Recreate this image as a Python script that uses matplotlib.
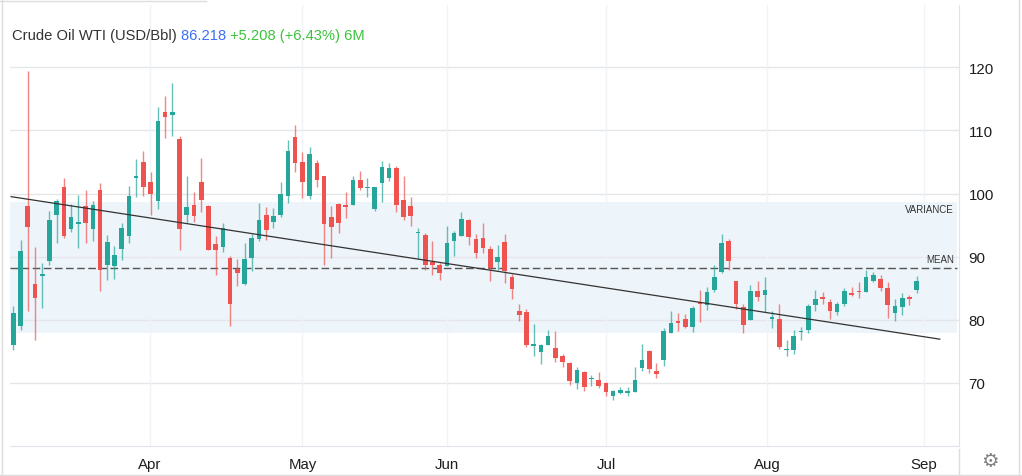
import matplotlib
matplotlib.use('Agg')
import matplotlib.pyplot as plt
from matplotlib.lines import Line2D
import matplotlib.transforms as mtransforms

# Daily candles (oldest first)
OPENS = [76.0, 79.05, 98.0, 85.7, 86.9, 89.25, 96.6, 101.0, 94.3, 95.2, 98.0, 94.4, 100.5, 88.7, 88.5, 91.2,
         93.2, 102.5, 105.0, 101.8, 98.8, 112.9, 112.5, 108.6, 96.6, 98.2, 101.9, 98.0, 92.0, 91.5, 89.8, 88.1,
         85.7, 89.8, 92.8, 96.6, 95.5, 96.6, 99.6, 109.0, 105.0, 99.6, 104.9, 102.7, 96.2, 98.3, 98.2, 98.2,
         102.1, 100.9, 97.5, 101.7, 102.4, 104.1, 99.0, 97.95, 93.74, 93.4, 89.1, 88.6, 88.45, 92.4, 93.3, 95.8,
         92.8, 92.9, 91.2, 89.2, 92.3, 86.7, 81.4, 81.2, 75.8, 74.8, 76.0, 75.5, 74.3, 73.1, 69.9, 71.65,
         70.55, 70.4, 69.95, 67.95, 68.3, 68.4, 68.5, 72.35, 75.0, 71.9, 73.6, 77.8, 79.7, 80.1, 78.9, 82.85,
         82.3, 84.7, 87.6, 92.4, 86.2, 82.05, 79.95, 84.6, 83.9, 80.1, 80.1, 75.1, 75.1, 78.05, 78.4, 82.3,
         83.55, 82.75, 81.2, 82.5, 84.2, 84.5, 84.35, 86.2, 86.45, 85.0, 81.06, 82.07, 83.65, 84.7]
HIGHS = [82.2, 92.6, 119.4, 91.5, 89.0, 97.2, 99.2, 102.5, 98.4, 99.8, 100.5, 98.8, 101.7, 93.4, 91.6, 95.4,
         101.2, 105.4, 106.8, 103.35, 113.8, 115.4, 117.6, 109.1, 102.7, 100.3, 105.6, 98.1, 93.3, 95.4, 90.1, 89.6,
         92.2, 93.6, 98.5, 97.8, 97.7, 101.8, 108.5, 110.9, 106.6, 107.4, 105.3, 102.7, 98.0, 98.5, 100.3, 102.7,
         103.6, 102.4, 101.0, 105.2, 104.9, 104.4, 102.7, 99.4, 94.6, 93.7, 92.4, 89.0, 94.8, 94.0, 97.0, 96.0,
         93.6, 95.4, 91.6, 91.8, 93.6, 87.2, 82.5, 81.7, 79.3, 76.15, 78.4, 78.2, 74.6, 73.35, 72.55, 71.9,
         71.2, 71.65, 70.1, 68.85, 69.3, 69.3, 72.45, 76.15, 75.25, 73.1, 78.7, 81.3, 81.05, 80.9, 82.2, 84.7,
         85.1, 88.6, 93.5, 92.8, 86.2, 82.4, 85.5, 86.1, 86.8, 81.3, 82.4, 76.7, 78.4, 78.8, 82.5, 84.7,
         84.3, 83.3, 82.75, 85.0, 85.1, 85.9, 87.8, 87.5, 87.0, 85.9, 83.3, 84.2, 83.9, 86.9]
LOWS = [75.1, 78.4, 81.3, 76.8, 81.8, 88.6, 92.1, 92.9, 93.95, 91.4, 92.2, 92.5, 84.5, 86.3, 86.45, 89.5,
        92.1, 99.5, 99.6, 96.6, 97.5, 108.8, 109.2, 91.1, 95.3, 95.5, 97.1, 91.0, 87.0, 90.7, 79.05, 85.4,
        85.5, 87.7, 92.4, 92.7, 94.5, 96.3, 98.5, 103.35, 99.3, 99.1, 101.1, 88.7, 89.8, 93.8, 96.1, 98.1,
        100.5, 99.45, 97.3, 98.7, 102.0, 97.0, 95.8, 94.8, 89.6, 87.8, 87.1, 86.3, 88.45, 90.15, 93.2, 91.9,
        89.7, 90.5, 86.1, 87.8, 85.8, 83.3, 79.8, 75.6, 74.2, 73.0, 75.9, 73.35, 72.55, 69.7, 69.0, 68.6,
        69.4, 69.1, 67.95, 67.2, 68.2, 67.96, 68.45, 71.9, 71.55, 70.75, 72.7, 77.8, 78.25, 78.6, 78.0, 79.6,
        81.6, 84.4, 87.4, 87.8, 81.7, 77.9, 79.95, 83.0, 81.2, 78.6, 75.36, 74.3, 74.6, 76.7, 77.9, 81.3,
        82.5, 80.1, 80.8, 82.2, 83.8, 83.5, 84.35, 86.0, 84.6, 80.2, 79.7, 80.7, 82.3, 84.23]
CLOSES = [81.0, 90.9, 94.7, 83.4, 87.3, 95.75, 98.8, 93.3, 96.2, 95.5, 95.4, 98.2, 87.9, 92.3, 90.25, 94.5,
          99.55, 102.8, 101.1, 99.9, 111.5, 112.2, 112.9, 94.3, 97.8, 96.5, 99.0, 91.1, 91.1, 94.6, 82.5, 87.4,
          89.6, 92.9, 95.75, 94.2, 96.4, 99.9, 106.8, 104.9, 101.8, 106.3, 102.1, 95.1, 94.7, 95.3, 97.9, 102.2,
          100.9, 101.1, 101.0, 104.25, 104.0, 98.2, 96.3, 96.5, 93.85, 88.6, 88.7, 87.35, 92.15, 93.7, 95.95, 93.05,
          90.5, 91.3, 88.2, 89.9, 87.7, 84.9, 80.8, 76.0, 76.15, 76.0, 77.4, 73.9, 73.2, 70.3, 72.0, 69.3,
          70.75, 69.4, 68.5, 68.75, 68.9, 68.6, 70.45, 73.6, 72.1, 71.3, 78.15, 79.5, 79.5, 78.8, 81.85, 82.5,
          84.3, 86.8, 92.15, 89.25, 82.5, 79.2, 84.5, 83.55, 84.7, 80.4, 75.7, 75.36, 77.4, 78.2, 82.1, 83.2,
          83.3, 81.3, 82.5, 84.5, 83.97, 84.35, 86.8, 87.1, 85.0, 82.3, 82.2, 83.44, 83.3, 86.2]

# Month ticks, as positions along the candle index
MONTH_LABELS = ['Apr', 'May', 'Jun', 'Jul', 'Aug', 'Sep']
MONTH_POS = [18.9, 40.0, 60.0, 82.0, 104.3, 126.0]
PRICE_TICKS = [70, 80, 90, 100, 110, 120]

# Overlay statistics shown on the chart
MEAN_PRICE = 88.2
VARIANCE_BAND = (77.9, 98.7)
TREND_X = [-0.3, 128.2]
TREND_Y = [99.5, 76.9]

UP_COLOR = '#26a69a'
DOWN_COLOR = '#ef5350'
FONT = 'Liberation Sans'


def draw_candles(ax):
    """Draw wicks and bodies for every candle."""
    for i, (o, h, l, c) in enumerate(zip(OPENS, HIGHS, LOWS, CLOSES)):
        color = UP_COLOR if c >= o else DOWN_COLOR
        ax.vlines(i, l, h, color=color, linewidth=1.0, alpha=0.7, zorder=3)
        bottom = min(o, c)
        height = max(abs(c - o), 0.18)
        ax.bar(i, height, bottom=bottom, width=0.64, color=color, linewidth=0, zorder=4)


def draw_title(fig):
    """Write the multi-coloured header text piece by piece."""
    parts = [('Crude Oil WTI (USD/Bbl) ', '#333333'),
             ('86.218 ', '#3b6ff5'),
             ('+5.208 (+6.43%) 6M', '#3cc43c')]
    renderer = fig.canvas.get_renderer()
    x = 12 / 1022
    for text, color in parts:
        t = fig.text(x, 1 - 36.5 / 477, text, color=color, fontsize=10.6, family=FONT, va='center', ha='left')
        bb = t.get_window_extent(renderer=renderer)
        x = fig.transFigure.inverted().transform((bb.x1, bb.y0))[0]


def draw_frame(fig):
    """Light border lines around the widget."""
    c = '#dcdcdc'
    W, H = 1022, 477
    lines = [((1.5, 1.5), (0, H)),
             ((1018.5, 1018.5), (0, H)),
             ((0, W), (1.5, 1.5)),
             ((0, 206), (H - 1.5, H - 1.5)),
             ((959, 959), (2, 27))]
    for xs, ys in lines:
        fig.add_artist(Line2D([x / W for x in xs], [y / H for y in ys], color=c, linewidth=1.0))


fig = plt.figure(figsize=(10.22, 4.77), dpi=100)
ax = fig.add_axes([10 / 1022, (477 - 446.7) / 477, 949 / 1022, (446.7 - 6) / 477])

ax.set_xlim(-0.46, 130.86)
ax.set_ylim(60.0, 129.9)

# Variance band, grid, mean and trend
ax.axhspan(VARIANCE_BAND[0], VARIANCE_BAND[1], xmax=0.998, color='#edf4fa', linewidth=0, zorder=0)
for p in PRICE_TICKS:
    ax.axhline(p, color='#e4e6ea', linewidth=1.0, zorder=1)
for m in MONTH_POS:
    ax.axvline(m, color='#f0f3f8', linewidth=1.0, zorder=1)
ax.axhline(MEAN_PRICE, xmax=0.998, color='#555555', linewidth=1.0, linestyle=(0, (5.5, 2.5)), zorder=2)
ax.plot(TREND_X, TREND_Y, color='#333333', linewidth=0.9, zorder=5)

draw_candles(ax)

blend = mtransforms.blended_transform_factory(ax.transAxes, ax.transData)
ax.text(0.9947, 97.5, 'VARIANCE', transform=blend, ha='right', va='center',
        fontsize=7, color='#333333', family=FONT)
ax.text(0.9947, 89.6, 'MEAN', transform=blend, ha='right', va='center',
        fontsize=7, color='#333333', family=FONT)

# Axes styling: price scale on the right
ax.yaxis.tick_right()
ax.set_yticks(PRICE_TICKS)
ax.set_yticklabels([str(p) for p in PRICE_TICKS], family=FONT, fontsize=10.8, color='#1e1e1e')
ax.set_xticks(MONTH_POS)
ax.set_xticklabels(MONTH_LABELS, family=FONT, fontsize=10.8, color='#1e1e1e')
ax.tick_params(axis='y', length=0, pad=7)
ax.tick_params(axis='x', length=0, pad=8)
for side in ['top', 'left']:
    ax.spines[side].set_visible(False)
ax.spines['right'].set_color('#e0e3eb')
ax.spines['bottom'].set_color('#e0e3eb')

draw_title(fig)
draw_frame(fig)
fig.text(990 / 1022, 1 - 462 / 477, '\u2699', fontsize=14, color='#808080', ha='center', va='center',
         family='DejaVu Sans')

fig.savefig('out.png', dpi=100)
